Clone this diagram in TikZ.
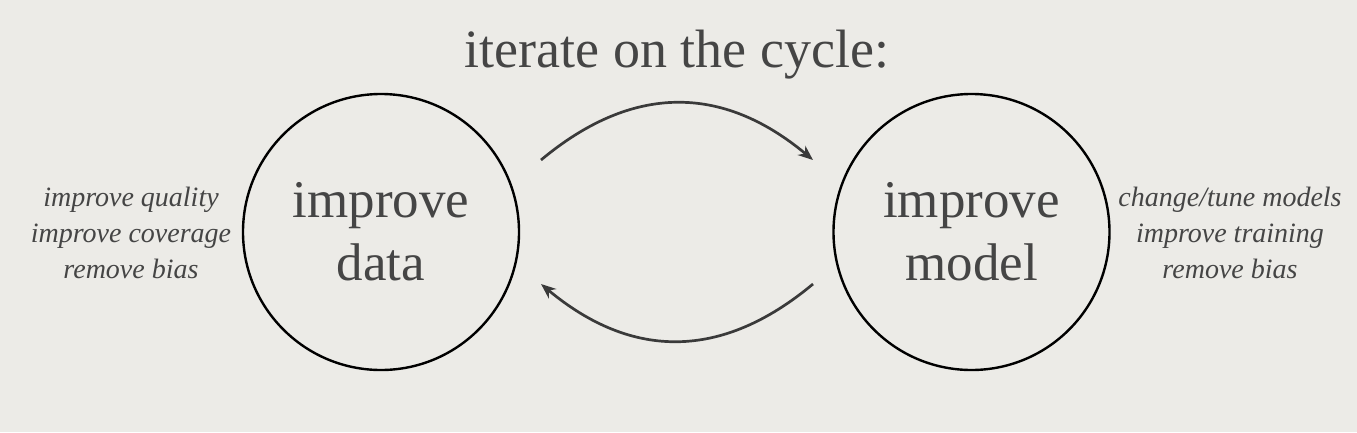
\documentclass[tikz,border=0pt]{standalone}
\usepackage{fontspec}
\setmainfont{Liberation Serif}
\usetikzlibrary{arrows.meta}
\definecolor{bg}{HTML}{ECEBE7}
\definecolor{ink}{HTML}{454545}
\definecolor{arr}{HTML}{3A3A3A}
\tikzset{
  cyclebox/.style={draw=black, line width=2.4pt, circle, minimum size=276pt, inner sep=0pt,
    text=ink, align=center, font=\fontsize{53}{63}\selectfont},
  sidenote/.style={text=ink, align=center, inner sep=0pt, font=\fontsize{28}{36}\selectfont\itshape},
  titletext/.style={text=ink, inner sep=0pt, font=\fontsize{54}{63}\selectfont},
  cyclearrow/.style={draw=arr, line width=2.7pt, -{Stealth[length=15pt,width=12pt]}}
}
\begin{document}
\begin{tikzpicture}[x=1pt,y=-1pt]
\fill[bg] (0,0) rectangle (1357,432);
\useasboundingbox (0,0) rectangle (1357,432);
\node[titletext, anchor=base] (title) at (677,67) {iterate on the cycle:};
\node[cyclebox] (data) at (381,232) {improve\\data};
\node[cyclebox] (model) at (971.5,232) {improve\\model};
\node[sidenote] (dnote) at (131,233) {improve quality\\improve coverage\\remove bias};
\node[sidenote] (mnote) at (1230,233) {change/tune models\\improve training\\remove bias};
\coordinate (a1s) at (541,160);
\coordinate (a1e) at (813,160);
\coordinate (a2s) at (813,284);
\coordinate (a2e) at (541,284);
\draw[cyclearrow] (a1s) .. controls (632,84) and (722,84) .. (a1e);
\draw[cyclearrow] (a2s) .. controls (722,360) and (632,360) .. (a2e);
\end{tikzpicture}
\end{document}
